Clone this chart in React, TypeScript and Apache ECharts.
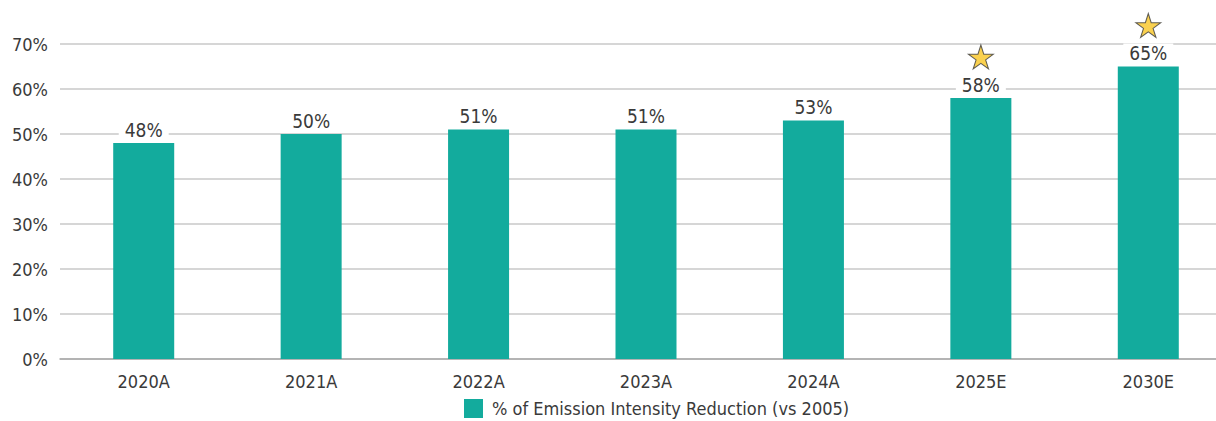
import React, { useEffect, useRef } from "react";
import * as echarts from "echarts";

const categories = ["2020A", "2021A", "2022A", "2023A", "2024A", "2025E", "2030E"];
const reductionPct = [48, 50, 51, 51, 53, 58, 65];
// Target years flagged with a star above the bar
const starredYears = ["2025E", "2030E"];
const seriesName = "% of Emission Intensity Reduction (vs 2005)";

const FONT = '"DejaVu Sans Condensed", "Liberation Sans Narrow", sans-serif';
const TEXT = "#3a3a3a";
const TEAL = "#13AB9D";
const STAR_PATH =
  "path://M12,0 L14.8,8.6 L24,8.6 L16.6,13.9 L19.4,22.5 L12,17.2 L4.6,22.5 L7.4,13.9 L0,8.6 L9.2,8.6 Z";

export default function App() {
  const ref = useRef<HTMLDivElement>(null);

  useEffect(() => {
    document.body.style.margin = "0";
    const chart = echarts.init(ref.current!, null, { renderer: "svg" });
    chart.setOption({
      animation: false,
      backgroundColor: "#ffffff",
      textStyle: { fontFamily: FONT, color: TEXT },
      // the plot runs a little past the right edge of the visible frame
      grid: { left: 60, right: 0, top: 44, bottom: 62 },
      legend: {
        data: [seriesName],
        left: 464,
        top: 399,
        padding: 0,
        icon: "rect",
        itemWidth: 19,
        itemHeight: 19,
        textStyle: { fontFamily: FONT, fontSize: 18, color: TEXT, padding: [0, 0, 0, 4] },
      },
      xAxis: {
        type: "category",
        data: categories,
        axisTick: { show: false },
        axisLine: { lineStyle: { color: "#a8a8a8", width: 1.5 } },
        axisLabel: { fontFamily: FONT, fontSize: 18, color: TEXT, margin: 13 },
      },
      yAxis: {
        type: "value",
        min: 0,
        max: 70,
        interval: 10,
        axisLine: { show: false },
        axisTick: { show: false },
        axisLabel: { fontFamily: FONT, fontSize: 18, color: TEXT, margin: 12, formatter: "{value}%" },
        splitLine: { lineStyle: { color: "#c8c8c8", width: 1.5 } },
      },
      series: [
        {
          name: seriesName,
          type: "bar",
          data: reductionPct,
          barWidth: 61,
          itemStyle: { color: TEAL },
          label: {
            show: true,
            position: "top",
            distance: 4,
            formatter: (p: any) => `${p.value}%`,
            fontFamily: FONT,
            fontSize: 19,
            color: TEXT,
            backgroundColor: "#ffffff",
            padding: [0, 6, 0, 6],
          },
        },
        {
          name: "targets",
          type: "scatter",
          data: categories.map((c, i) => (starredYears.includes(c) ? reductionPct[i] : "-")),
          symbol: STAR_PATH,
          symbolSize: [25, 24],
          symbolOffset: [0, -41],
          itemStyle: { color: "#F9C623", borderColor: "#3a3a3a", borderWidth: 1 },
          z: 5,
        },
      ],
    });
    return () => chart.dispose();
  }, []);

  return (
    <div style={{ width: 1216, height: 421, overflow: "hidden" }}>
      <div ref={ref} style={{ width: 1232, height: 421 }} />
    </div>
  );
}
